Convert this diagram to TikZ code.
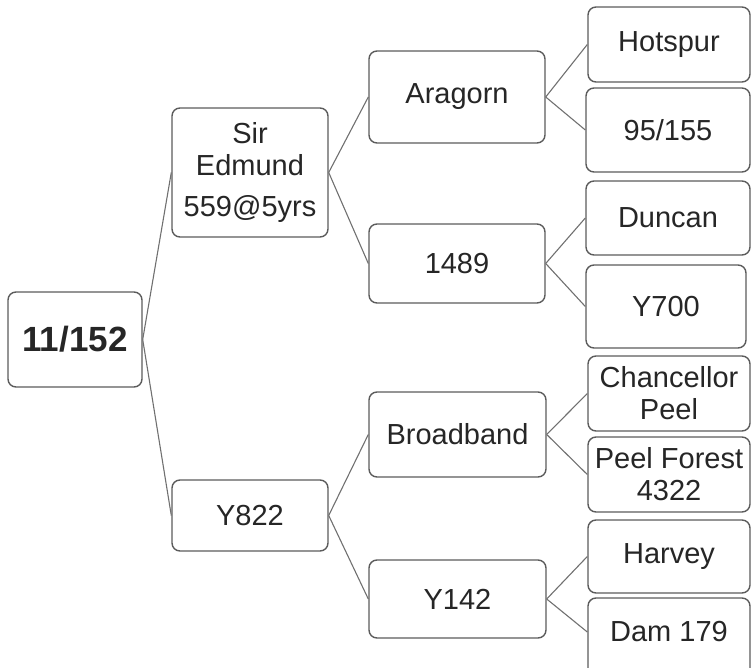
\documentclass[tikz,border=0pt]{standalone}
\usepackage{fontspec}
\setmainfont{Liberation Sans}
\definecolor{boxline}{HTML}{5C5C5C}
\definecolor{conline}{HTML}{707070}
\definecolor{txt}{HTML}{262626}
\begin{document}
\begin{tikzpicture}[x=1pt,y=-1pt,
  box/.style={draw=boxline, line width=1.4pt, rounded corners=8pt, fill=white,
    rectangle, inner sep=0pt, align=center, text=txt,
    font=\fontsize{29}{32}\selectfont},
  con/.style={draw=conline, line width=1.1pt}]
\useasboundingbox (0,0) rectangle (751,668);
\clip (0,0) rectangle (751,668);
% level 0
\node[box, minimum width=134pt, minimum height=95pt, font=\fontsize{35}{40}\selectfont\bfseries] (root) at (75,339.5) {11/152};
% level 1
\node[box, minimum width=156pt, minimum height=129pt] (sir) at (250,172.5) {Sir\\Edmund\\[9pt]559@5yrs};
\node[box, minimum width=156pt, minimum height=71pt] (y822) at (250,515.5) {Y822};
% level 2
\node[box, minimum width=176pt, minimum height=92pt] (aragorn) at (457,97) {Aragorn};
\node[box, minimum width=176pt, minimum height=79pt] (n1489) at (457,263.5) {1489};
\node[box, minimum width=177pt, minimum height=85pt] (broadband) at (457.5,434.5) {Broadband};
\node[box, minimum width=177pt, minimum height=78pt] (y142) at (457.5,599) {Y142};
% level 3
\node[box, minimum width=162pt, minimum height=75pt] (hotspur) at (669,44.5) {Hotspur};
\node[box, minimum width=164pt, minimum height=84pt] (n95) at (668,130) {95/155};
\node[box, minimum width=164pt, minimum height=74pt] (duncan) at (668,218) {Duncan};
\node[box, minimum width=160pt, minimum height=83pt] (y700) at (666,306.5) {Y700};
\node[box, minimum width=162pt, minimum height=75pt] (chancellor) at (669,393.5) {Chancellor\\Peel};
\node[box, minimum width=162pt, minimum height=75pt] (peelforest) at (669,474.5) {Peel Forest\\4322};
\node[box, minimum width=162pt, minimum height=73pt] (harvey) at (669,556.5) {Harvey};
\node[box, minimum width=162pt, minimum height=84pt] (dam) at (669,640) {\raisebox{8pt}[\height][\depth]{Dam 179}};
% connectors
\draw[con] (root.east) -- (sir.west);
\draw[con] (root.east) -- (y822.west);
\draw[con] (sir.east) -- (aragorn.west);
\draw[con] (sir.east) -- (n1489.west);
\draw[con] (y822.east) -- (broadband.west);
\draw[con] (y822.east) -- (y142.west);
\draw[con] (aragorn.east) -- (hotspur.west);
\draw[con] (aragorn.east) -- (n95.west);
\draw[con] (n1489.east) -- (duncan.west);
\draw[con] (n1489.east) -- (y700.west);
\draw[con] (broadband.east) -- (chancellor.west);
\draw[con] (broadband.east) -- (peelforest.west);
\draw[con] (y142.east) -- (harvey.west);
\draw[con] (y142.east) -- ([yshift=8pt]dam.west);
\end{tikzpicture}
\end{document}
